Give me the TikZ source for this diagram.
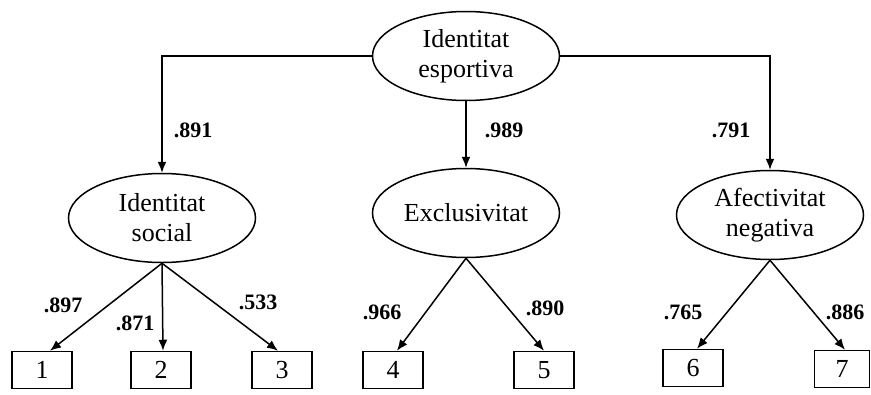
\documentclass[tikz,border=0pt]{standalone}
\usepackage{fontspec}
\setmainfont{Liberation Serif}
\usetikzlibrary{arrows.meta,shapes.geometric}

\def\lw{1.5pt}

\begin{document}
\begin{tikzpicture}[x=1pt,y=-1pt]
\tikzstyle{facteur}=[draw,ellipse,line width=\lw,minimum width=187pt,minimum height=89pt,inner sep=0pt,align=center,font=\fontsize{26}{30}\selectfont]
\tikzstyle{item}=[draw,rectangle,line width=\lw,minimum width=60pt,minimum height=37pt,inner sep=0pt,font=\fontsize{26}{30}\selectfont]
\tikzstyle{poids}=[font=\fontsize{22}{24}\selectfont\bfseries]
\tikzstyle{fleche}=[-{Latex[length=11pt,width=9pt]},line width=\lw]

\useasboundingbox (0,0) rectangle (871,394);

% facteurs
\node[facteur] (esp) at (466,56) {Identitat\\esportiva};
\node[facteur] (soc) at (162,218) {Identitat\\social};
\node[facteur] (exc) at (466,213) {Exclusivitat};
\node[facteur] (afe) at (770,215) {Afectivitat\\negativa};

% items
\node[item] (i1) at (42,370) {1};
\node[item] (i2) at (161,370) {2};
\node[item] (i3) at (282,370) {3};
\node[item] (i4) at (393,370) {4};
\node[item] (i5) at (544,370) {5};
\node[item] (i6) at (693,368) {6};
\node[item,minimum width=55pt] (i7) at (842,369) {7};

% poids
\node[poids] (p1) at (193,130) {.891};
\node[poids] (p2) at (504,130) {.989};
\node[poids] (p3) at (731,130) {.791};
\node[poids] (p4) at (63,305) {.897};
\node[poids] (p5) at (135,323) {.871};
\node[poids] (p6) at (258,302) {.533};
\node[poids] (p7) at (382,312) {.966};
\node[poids] (p8) at (545,308) {.890};
\node[poids] (p9) at (683,312) {.765};
\node[poids] (p10) at (845,312) {.886};

\draw[fleche] (esp.west) -| (soc.north);
\draw[fleche] (esp.south) -- (exc.north);
\draw[fleche] (esp.east) -| (afe.north);

\draw[fleche] (soc.south) -- ([xshift=8pt]i1.north);
\draw[fleche] (soc.south) -- ([xshift=2pt]i2.north);
\draw[fleche] (soc.south) -- ([xshift=-4pt]i3.north);
\draw[fleche] (exc.south) -- ([xshift=4pt]i4.north);
\draw[fleche] (exc.south) -- (i5.north);
\draw[fleche] (afe.south) -- ([xshift=4pt]i6.north);
\draw[fleche] (afe.south) -- ([xshift=3pt]i7.north);

\end{tikzpicture}
\end{document}
